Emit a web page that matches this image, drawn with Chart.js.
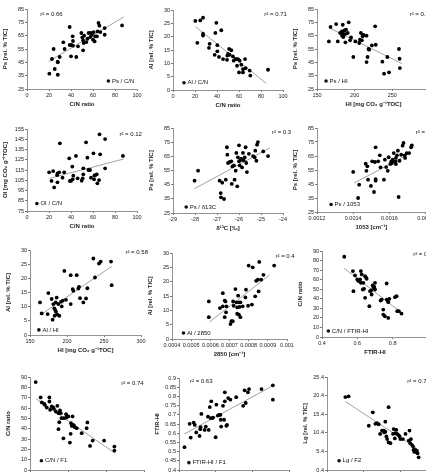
<!DOCTYPE html>
<html>
<head>
<meta charset="utf-8">
<script src="https://cdn.jsdelivr.net/npm/chart.js@4.4.0/dist/chart.umd.min.js"></script>
<style>
html, body { margin: 0; padding: 0; background: #fff; }
body { width: 426px; height: 473px; overflow: hidden; position: relative; }
canvas { position: absolute; }
</style>
</head>
<body>
<script>
// ---- data: [x, y] pairs ----
var psCN = [[20.3,36.5],[22.7,47.5],[24.2,55],[25.2,40],[27.9,45.5],[28,45],[28,35.7],[29.7,49],[33,60],[34.2,55],
  [38.8,71.5],[38.8,58],[40.3,58],[40,49.5],[41.5,64.5],[41.8,61],[41.8,57.5],[44.8,49],[46.4,57],[49.4,67],
  [50.3,63.7],[51,61.5],[51.5,59.5],[51,54],[52,65],[54,60.2],[55,62.7],[56,67],[57.6,64],[58,67],
  [59,65.7],[60,62],[60.6,67.7],[61.5,60.7],[62,64.5],[63.6,64.5],[64.2,68.2],[65,74.5],[65.8,72.5],[66.7,67.7],
  [70.6,70.7],[70.6,65.7],[86.4,72.7]];
var psCNFit = [[19.7,45.7],[87.9,79]];

var alCN = [[20.3,25.9],[22.1,17.7],[24.8,26.1],[27.3,27.1],[27.3,21.1],[27.3,20.4],[32.7,15.8],[33.3,17.3],[38.5,21.4],[39.4,25.2],
  [40.3,16.8],[40.3,14.5],[37.9,13.2],[41.8,12.4],[43.9,22.4],[45.5,11.6],[49.1,11.3],[49.4,12.9],[50,13.5],[51,15.4],
  [51.5,13.2],[53,14.9],[54.5,12.6],[55.2,11],[56.7,11.6],[57.6,11.6],[58.2,9.1],[59.1,11.6],[60,6.6],[60.6,11],
  [62.1,9.5],[63.6,7.8],[63.6,6.6],[65.5,11.6],[66,8.2],[69.7,7.3],[70.3,5.4],[86.4,7.6]];
var alCNFit = [[20.6,23.7],[84.8,2.5]];

var psHI = [[165.8,60.7],[168,71.5],[175.4,73.7],[177.6,60.7],[180.7,67],[183,68.2],[184.2,73.2],[183.3,65],[184.2,67],[185,64],
  [186.4,69],[187.3,66.2],[187.7,60],[188.6,69.5],[190.8,67],[192.1,75],[193.9,61.5],[195.2,63.7],[198.2,49],[200.9,60.7],
  [206.1,59.5],[208.3,67],[209.6,61.5],[210.5,64.5],[211.8,65.5],[207,62],[215.8,65],[215.8,45.2],[217.1,49],[218.4,55],
  [219.3,54.5],[222.8,57.7],[227.2,72],[228,58.2],[236.8,45.5],[239,36.5],[243.4,49],[245.6,37.5],[258.8,55],[259.6,47.7],
  [260,40.7]];
var psHIFit = [[166.7,70.7],[263,44]];

var oiCN = [[20.1,112.7],[22.3,104.3],[23.8,114],[24.7,98],[27.4,110],[27.7,111.7],[27.7,103],[29.3,112.7],[29.9,141],[32.3,107.5],
  [33.8,112.7],[38.4,126.4],[39,104.3],[40,104.3],[41.2,118.3],[41.5,105.9],[42.1,109.5],[44.5,128.7],[46,106.9],[49.7,104.6],
  [50.6,106.9],[51.2,110.8],[51.2,116.6],[53.7,142],[54.9,127],[55.8,115],[57.3,115],[58.2,107.5],[60.4,131.3],[61,105.9],
  [61.3,109.5],[61.9,110],[63.4,110.8],[64,102],[65.5,105.2],[65.9,149.8],[66.5,130.3],[71,145.2],[71,116.6],[87.2,128.7]];
var oiCNFit = [[20.7,106.9],[87.8,125.7]];

var psD13C = [[-28.02,47.8],[-27.86,54.9],[-26.88,47.8],[-26.83,39.1],[-26.82,36.1],[-26.76,46.4],[-26.68,34.9],[-26.6,48.5],[-26.55,71.4],[-26.53,66.2],
  [-26.5,60.3],[-26.42,61],[-26.35,61.5],[-26.33,45.5],[-26.3,57.9],[-26.23,58.6],[-26.2,48.5],[-26.15,54.9],[-26.12,67.4],[-26.08,43.8],
  [-26.05,64.3],[-26,72.8],[-26,61.5],[-25.97,58.6],[-25.94,62.2],[-25.9,63.4],[-25.86,57.2],[-25.82,67.4],[-25.79,62.2],[-25.74,64.3],
  [-25.7,71.4],[-25.67,60.3],[-25.64,53.9],[-25.55,66.8],[-25.36,65.2],[-25.29,64.3],[-25.26,69],[-25.21,61.9],[-25.18,73.2],[-25.14,75.1],
  [-24.9,68.5],[-24.68,65.2]];
var psD13CFit = [[-28.02,42.2],[-24.6,70.9]];

var ps1053 = [[0.0014,53.6],[0.001433,44.5],[0.001427,35],[0.001469,59.5],[0.001473,54.4],[0.001478,57.6],[0.001482,48.1],[0.001498,43.6],[0.001505,61.2],[0.001515,39.3],
  [0.00152,60.7],[0.001524,71.2],[0.001524,48.5],[0.001524,47.4],[0.001538,61.2],[0.001547,65.5],[0.001551,56.9],[0.00157,48.1],[0.001575,62.4],[0.001582,57.1],
  [0.001591,54.4],[0.001596,64.1],[0.001605,59.3],[0.001611,61.2],[0.001615,60],[0.001618,62.4],[0.001624,67.1],[0.001633,61.2],[0.001636,59.3],[0.001636,63.6],
  [0.001642,65.5],[0.001647,68.8],[0.001651,35.7],[0.001656,61.6],[0.001665,65.9],[0.001673,72.4],[0.001678,74.3],[0.001684,65.5],[0.001687,63.6],[0.001696,67.1],
  [0.001709,67.1],[0.00172,71.2],[0.001724,72.6]];
var ps1053Fit = [[0.001405,45.7],[0.001696,65.5]];

var alHI = [[163.5,11.5],[165.8,7.6],[173.9,7.4],[174.8,14.8],[179.3,12.7],[180.6,5.4],[181.5,10.9],[182.9,9.4],[183.3,6.8],[183.8,8.9],
  [184.7,11.5],[186,13.2],[185.1,8.2],[186.9,7.2],[188.3,10.9],[189.6,6.8],[191.9,11.7],[192.8,10.1],[194.1,12.1],[196.4,22.6],
  [198.6,12.4],[205,21.1],[205,10.9],[207.7,16.2],[208.6,15.6],[213.1,21.1],[215.3,16.4],[216.2,17],[217.6,13],[222.1,11.5],
  [225.7,12.9],[227.5,16.5],[235.6,27],[237.8,20.3],[243.2,25.2],[245.5,25.9],[259.5,25.9],[260.4,17.6]];
var alHIFit = [[165.8,7.4],[260.4,24.2]];

var al2850 = [[0.000592,13.1],[0.000592,7.6],[0.00065,10.8],[0.000665,16],[0.000665,11.4],[0.000675,13.4],[0.000679,13.1],[0.000684,11.4],[0.000675,7.6],[0.000682,9.3],
  [0.000705,5.2],[0.00071,6.2],[0.000717,6.2],[0.000719,13.1],[0.000722,11.6],[0.000731,17.4],[0.000736,12.8],[0.00074,8.8],[0.00074,11],[0.000745,15.1],
  [0.000749,12.8],[0.000749,8.5],[0.000752,11.2],[0.000757,7.6],[0.000757,12.8],[0.000769,11.4],[0.000783,14.5],[0.000786,17.2],[0.000797,11.6],[0.0008,25.6],
  [0.000817,12],[0.000821,25],[0.000834,14.9],[0.000839,20.3],[0.000848,20.7],[0.000852,16.6],[0.000855,26.9],[0.000865,20.7],[0.000877,22.4],[0.000933,25.6]];
var al2850Fit = [[0.000595,5.9],[0.000910,22.4]];

var cnFTIR = [[0.526,84],[0.575,69],[0.578,48],[0.587,64.4],[0.6,60.2],[0.606,58.5],[0.616,60.2],[0.62,69],[0.62,56.7],[0.625,65.5],
  [0.631,49.7],[0.634,56.7],[0.638,50.4],[0.644,63.7],[0.65,62],[0.653,60.9],[0.644,41],[0.668,32.2],[0.672,48],[0.678,48.7],
  [0.681,44.5],[0.687,54],[0.691,51.5],[0.696,52.5],[0.7,49.7],[0.7,56.7],[0.732,38.2],[0.738,39.2],[0.747,28.7],[0.747,23.5],
  [0.756,21.7],[0.766,56],[0.766,39.2],[0.771,38.5],[0.775,36.4],[0.781,39.9],[0.775,20],[0.813,41.7],[0.822,42.7],[0.826,27],
  [0.835,27],[0.85,24.5]];
var cnFTIRFit = [[0.526,71.8],[0.832,28]];

var cnF1 = [[-1.85,85.1],[-1.72,70.2],[-1.69,65.4],[-1.63,64.1],[-1.61,63.1],[-1.56,60.5],[-1.49,70.2],[-1.49,66.3],[-1.47,58.3],[-1.43,61.5],
  [-1.39,60.5],[-1.37,59.2],[-1.32,56.6],[-1.28,62.1],[-1.25,55],[-1.25,39.5],[-1.23,46.3],[-1.21,57.6],[-1.19,55],[-1.17,50.2],
  [-1.12,30.7],[-1.11,50.2],[-1.05,54],[-1.04,50.8],[-0.99,51.8],[-0.95,26.5],[-0.93,35],[-0.92,45.3],[-0.9,42.7],[-0.88,51.8],
  [-0.86,43.7],[-0.84,42.7],[-0.82,41.4],[-0.77,40.5],[-0.64,35.6],[-0.51,40.5],[-0.49,46],[-0.42,23.3],[-0.35,28.5],[-0.05,28.5],
  [0.22,22.7],[0.22,18.8]];
var cnF1Fit = [[-1.84,68.9],[0.24,16.2]];

var ftirF1 = [[-1.85,0.524],[-1.71,0.651],[-1.68,0.576],[-1.6,0.658],[-1.57,0.645],[-1.53,0.604],[-1.44,0.585],[-1.42,0.622],[-1.41,0.633],[-1.39,0.705],
  [-1.3,0.618],[-1.27,0.636],[-1.21,0.69],[-1.19,0.618],[-1.16,0.742],[-1.14,0.682],[-1.12,0.773],[-1.09,0.682],[-1.07,0.685],[-1,0.578],
  [-0.98,0.755],[-0.94,0.696],[-0.91,0.7],[-0.87,0.7],[-0.86,0.673],[-0.85,0.636],[-0.8,0.749],[-0.77,0.673],[-0.75,0.773],[-0.75,0.822],
  [-0.71,0.64],[-0.69,0.645],[-0.66,0.791],[-0.6,0.782],[-0.44,0.796],[-0.25,0.749],[-0.21,0.833],[-0.18,0.764],[-0.12,0.822],[-0.09,0.84],
  [0.25,0.84],[0.56,0.86],[0.56,0.782]];
var ftirF1Fit = [[-1.85,0.596],[0.56,0.858]];

var lgF2 = [[-1.5,20],[-1.41,20.2],[-0.86,12.3],[-0.75,15.9],[-0.68,12.8],[-0.64,13],[-0.59,12.7],[-0.55,10.1],[-0.5,11],[-0.45,11],
  [-0.44,10.5],[-0.41,13.4],[-0.41,10.7],[-0.38,9.4],[-0.36,8.7],[-0.32,17.3],[-0.32,7.8],[-0.27,7.6],[-0.2,10.1],[-0.18,11.4],
  [-0.15,8.9],[-0.14,10.3],[-0.11,11.2],[-0.09,10.1],[-0.05,9.8],[-0.02,9.4],[0,8.7],[0.07,8.7],[0.14,10.1],[0.23,8.3],
  [0.25,11],[0.27,7.6],[0.29,8.7],[0.32,7.1],[0.35,6.7],[0.36,5.8],[0.38,5.3],[0.41,5.8],[0.44,5.2],[0.45,5.6],
  [0.47,4.9],[0.5,3.8]];
var lgF2Fit = [[-1.5,18.8],[0.45,6.2]];

// ---- tick labels ----
var ticksCN = [0, 20, 40, 60, 80, 100];
var ticksPs = [25, 35, 45, 55, 65, 75, 85];
var ticksAl = [0, 5, 10, 15, 20, 25, 30];
var ticksHI = [150, 200, 250, 300];
var ticksOI = [75, 85, 95, 105, 115, 125, 135, 145, 155];
var ticksD13C = [-29, -28, -27, -26, -25, -24];
var ticks1053 = [0.0012, 0.0014, 0.0016, 0.0018];
var ticks2850 = [0.0004, 0.0005, 0.0006, 0.0007, 0.0008, 0.0009, 0.001];
var ticksCNr = [0, 10, 20, 30, 40, 50, 60, 70, 80, 90];
var ticksFTIR = [0.4, 0.6, 0.8, 1];
var ticksF = [-2, -1, 0, 1];
var ticksFTIRy = [0.4, 0.45, 0.5, 0.55, 0.6, 0.65, 0.7, 0.75, 0.8, 0.85, 0.9];
var ticksLg = [0.4, 5.4, 10.4, 15.4, 20.4, 25.4];

var rel = ' [rel. % TIC]';
var hiTitle = 'HI [mg CO\u2082 g\u207B\u00B9TOC]';

// plot area boxes in page pixels: [left, top, right, bottom]
var panels = [
  {pts: psCN, fit: psCNFit, xt: ticksCN, yt: ticksPs, xl: 'C/N ratio', yl: 'Ps' + rel, r2: 'r\u00B2 = 0.66', lg: 'Ps / C/N', box: [27, 9, 137, 89], r2at: [0.12, 0.07], lgat: [0.74, 0.9]},
  {pts: alCN, fit: alCNFit, xt: ticksCN, yt: ticksAl, xl: 'C/N ratio', yl: 'Al' + rel, r2: 'r\u00B2 = 0.71', lg: 'Al / C/N', box: [173, 10, 283, 90], r2at: [0.83, 0.05], lgat: [0.1, 0.91]},
  {pts: psHI, fit: psHIFit, xt: ticksHI, yt: ticksPs, xl: hiTitle, yl: 'Ps' + rel, r2: 'r\u00B2 = 0.55', lg: 'Ps / HI', box: [317, 9, 430, 89], r2at: [0.82, 0.07], lgat: [0.08, 0.9]},
  {pts: oiCN, fit: oiCNFit, xt: ticksCN, yt: ticksOI, xl: 'C/N ratio', yl: hiTitle.replace('HI', 'OI'), r2: 'r\u00B2 = 0.12', lg: 'OI / C/N', box: [27, 129, 137, 211], r2at: [0.84, 0.06], lgat: [0.09, 0.91]},
  {pts: psD13C, fit: psD13CFit, xt: ticksD13C, yt: ticksPs, xl: '\u03B4\u00B9\u00B3C [\u2030]', yl: 'Ps' + rel, r2: 'r\u00B2 = 0.36', lg: 'Ps / \u03B413C', box: [173, 128, 283, 213], r2at: [0.9, 0.05], lgat: [0.12, 0.93]},
  {pts: ps1053, fit: ps1053Fit, xt: ticks1053, yt: ticksPs, xl: '1053 [cm\u207B\u00B9]', yl: 'Ps' + rel, r2: 'r\u00B2 = 0.42', lg: 'Ps / 1053', box: [317, 128, 427, 212], r2at: [0.91, 0.05], lgat: [0.13, 0.91]},
  {pts: alHI, fit: alHIFit, xt: ticksHI, yt: ticksAl, xl: hiTitle, yl: 'Al' + rel, r2: 'r\u00B2 = 0.58', lg: 'Al / HI', box: [30, 250, 141, 335], r2at: [0.86, 0.03], lgat: [0.08, 0.94]},
  {pts: al2850, fit: al2850Fit, xt: ticks2850, yt: ticksAl, xl: '2850 [cm\u207B\u00B9]', yl: 'Al' + rel, r2: 'r\u00B2 = 0.46', lg: 'Al / 2850', box: [172, 253, 287, 339], r2at: [0.9, 0.04], lgat: [0.1, 0.93]},
  {pts: cnFTIR, fit: cnFTIRFit, xt: ticksFTIR, yt: ticksCNr, xl: 'FTIR-HI', yl: 'C/N ratio', r2: 'r\u00B2 = 0.64', lg: 'C/N / FTIR-HI', box: [322, 251, 428, 337], r2at: [0.86, 0.04], lgat: [0.06, 0.93]},
  {pts: cnF1, fit: cnF1Fit, xt: ticksF, yt: ticksCNr, xl: 'F1', yl: 'C/N ratio', r2: 'r\u00B2 = 0.74', lg: 'C/N / F1', box: [30, 377, 144, 470], r2at: [0.8, 0.07], lgat: [0.1, 0.9]},
  {pts: ftirF1, fit: ftirF1Fit, xt: ticksF, yt: ticksFTIRy, xl: 'F1', yl: 'FTIR-HI', r2: 'r\u00B2 = 0.63', lg: 'FTIR-HI / F1', box: [179, 378, 289, 470], r2at: [0.1, 0.04], lgat: [0.09, 0.92]},
  {pts: lgF2, fit: lgF2Fit, xt: ticksF, yt: ticksLg, xl: 'F2', yl: 'Lg' + rel, r2: 'r\u00B2 = 0.74', lg: 'Lg / F2', box: [327, 377, 437, 470], r2at: [0.73, 0.05], lgat: [0.11, 0.9]}
];

var FONT = "'Liberation Sans', Arial, sans-serif";
var AXW = 27, AXH = 19, PADT = 6, PADR = 8;

function fmt(v) {
  return String(Number(v.toFixed(6)));
}

function toXY(arr) {
  return arr.map(function (d) { return {x: d[0], y: d[1]}; });
}

function drawPanel(p) {
  var c = document.createElement('canvas');
  var w = p.box[2] - p.box[0] + AXW + PADR;
  var h = p.box[3] - p.box[1] + PADT + AXH;
  c.width = w; c.height = h;
  c.style.width = w + 'px'; c.style.height = h + 'px';
  c.style.left = (p.box[0] - AXW) + 'px';
  c.style.top = (p.box[1] - PADT) + 'px';
  document.body.appendChild(c);

  // r² text and the little legend inside the plot area
  var notes = {
    id: 'notes',
    afterDatasetsDraw: function (chart) {
      var a = chart.chartArea, ctx = chart.ctx;
      ctx.save();
      ctx.fillStyle = '#111';
      ctx.font = '6px ' + FONT;
      ctx.textBaseline = 'middle';
      ctx.textAlign = 'left';
      ctx.fillText(p.r2, a.left + p.r2at[0] * a.width, a.top + p.r2at[1] * a.height);
      var lx = a.left + p.lgat[0] * a.width, ly = a.top + p.lgat[1] * a.height;
      ctx.beginPath();
      ctx.arc(lx, ly, 1.8, 0, Math.PI * 2);
      ctx.fill();
      ctx.fillText(p.lg, lx + 3.5, ly);
      ctx.restore();
    }
  };

  var tickFont = {family: FONT, size: 5.5};
  var titleFont = {family: FONT, size: 6, weight: 'bold'};

  new Chart(c, {
    type: 'scatter',
    data: {
      datasets: [
        {data: toXY(p.pts), pointRadius: 1.9, pointBackgroundColor: '#000', pointBorderWidth: 0, order: 1},
        {data: toXY(p.fit), showLine: true, borderColor: '#8a8a8a', borderWidth: 0.8, pointRadius: 0, order: 2}
      ]
    },
    options: {
      responsive: false,
      animation: false,
      devicePixelRatio: 1,
      layout: {padding: {top: PADT, right: PADR, left: 0, bottom: 0}},
      plugins: {legend: {display: false}, tooltip: {enabled: false}},
      scales: {
        x: {
          type: 'linear',
          min: p.xt[0], max: p.xt[p.xt.length - 1],
          afterBuildTicks: function (s) { s.ticks = p.xt.map(function (v) { return {value: v}; }); },
          afterFit: function (s) { s.height = AXH; },
          grid: {drawOnChartArea: false, drawTicks: true, tickLength: 2, color: '#777'},
          border: {color: '#777', width: 0.8},
          ticks: {font: tickFont, color: '#222', padding: 1, maxRotation: 0, autoSkip: false, callback: fmt},
          title: {display: true, text: p.xl, font: titleFont, color: '#222', padding: {top: 1, bottom: 0}}
        },
        y: {
          type: 'linear',
          min: p.yt[0], max: p.yt[p.yt.length - 1],
          afterBuildTicks: function (s) { s.ticks = p.yt.map(function (v) { return {value: v}; }); },
          afterFit: function (s) { s.width = AXW; },
          grid: {drawOnChartArea: false, drawTicks: true, tickLength: 2, color: '#777'},
          border: {color: '#777', width: 0.8},
          ticks: {font: tickFont, color: '#222', padding: 1, autoSkip: false, callback: fmt},
          title: {display: true, text: p.yl, font: titleFont, color: '#222', padding: {top: 2, bottom: 0}}
        }
      }
    },
    plugins: [notes]
  });
}

panels.forEach(drawPanel);
</script>
</body>
</html>
